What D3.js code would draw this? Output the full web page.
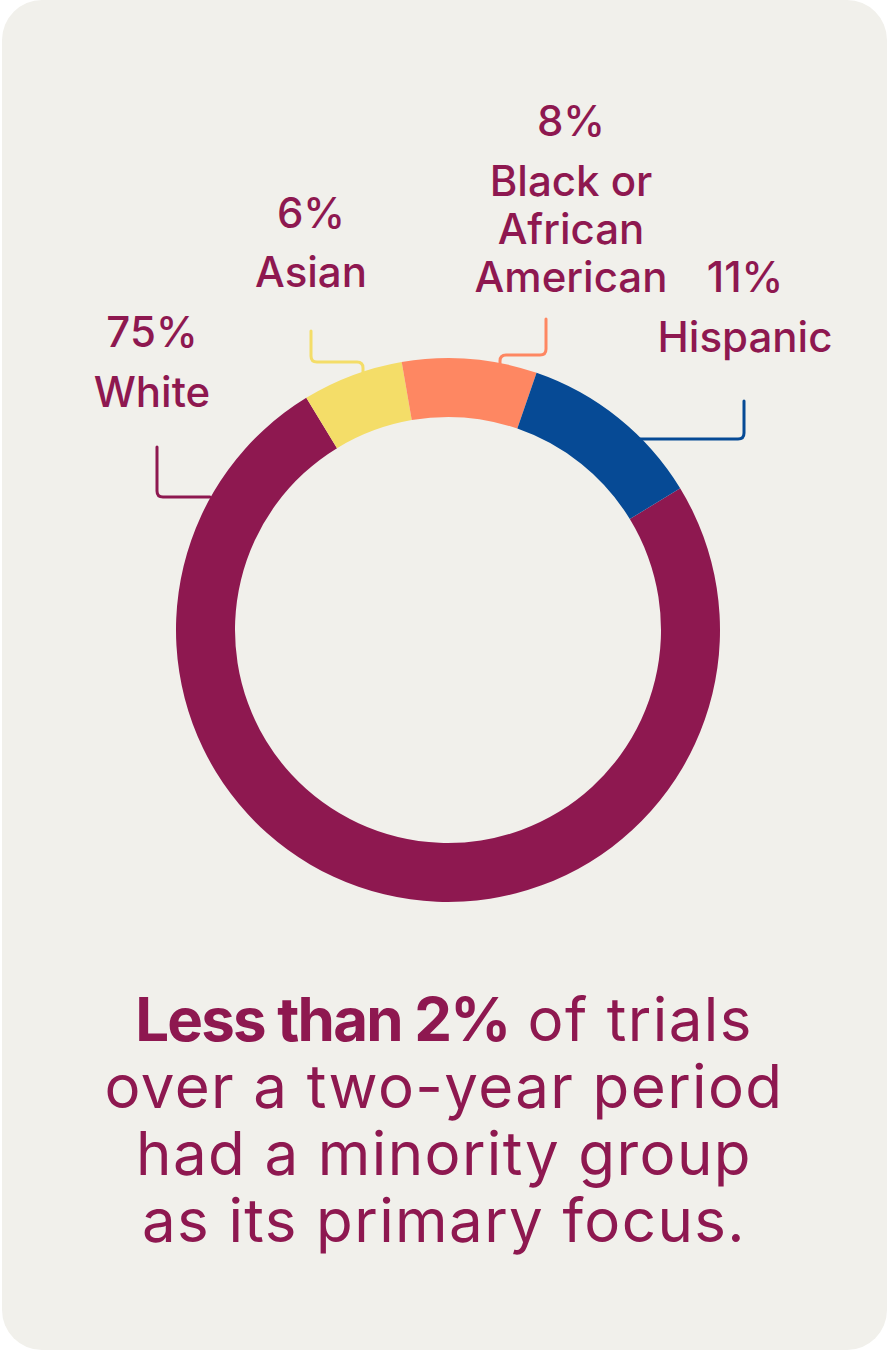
<!DOCTYPE html>
<html>
<head>
<meta charset="utf-8">
<script src="https://cdn.jsdelivr.net/npm/d3@7/dist/d3.min.js"></script>
<style>
html,body{margin:0;padding:0;background:#ffffff;}
svg{display:block;}
</style>
</head>
<body>
<svg id="chart" width="888" height="1352"></svg>
<script>
// ---- data ----
const categories = ["White", "Asian", "Black or African American", "Hispanic"];
const shares = [75, 6, 8, 11];
const percentLabels = ["75%", "6%", "8%", "11%"];
const nameLines = [["White"], ["Asian"], ["Black or", "African", "American"], ["Hispanic"]];
const colors = ["#8e1850", "#f4dd68", "#fe8762", "#064a95"];
const captionLines = [
  [{t: "Less than 2%", b: true}, {t: " of trials", b: false}],
  [{t: "over a two-year period", b: false}],
  [{t: "had a minority group", b: false}],
  [{t: "as its primary focus.", b: false}]
];

// ---- layout ----
const W = 888, H = 1352;
const cx = 448, cy = 630, rOuter = 272, rInner = 213;
const startDeg = 58.6;
const textColor = "#8e1850";
const font = "Inter, 'Noto Sans', sans-serif";

const svg = d3.select("#chart");

svg.append("rect")
  .attr("x", 2).attr("y", 0)
  .attr("width", 885).attr("height", 1350)
  .attr("rx", 40).attr("ry", 40)
  .attr("fill", "#f1f0eb");

const pie = d3.pie().sort(null).value(d => d)
  .startAngle(startDeg * Math.PI / 180)
  .endAngle(startDeg * Math.PI / 180 + 2 * Math.PI);
const arc = d3.arc().innerRadius(rInner).outerRadius(rOuter);

const g = svg.append("g").attr("transform", `translate(${cx},${cy})`);
g.selectAll("path.slice")
  .data(pie(shares))
  .join("path")
  .attr("class", "slice")
  .attr("d", arc)
  .attr("fill", (d, i) => colors[i]);

// leader lines (annotation geometry)
const leaders = [
  "M210,497 H163 Q157,497 157,491 V447",
  "M311,331 V356 Q311,362 317,362 H357 Q363,362 363,368 V374",
  "M546,319 V349 Q546,355 540,355 H506 Q500,355 500,361 V365",
  "M744,401 V433 Q744,439 738,439 H640"
];
svg.selectAll("path.leader")
  .data(leaders)
  .join("path")
  .attr("class", "leader")
  .attr("d", d => d)
  .attr("fill", "none")
  .attr("stroke", (d, i) => colors[i])
  .attr("stroke-width", 3)
  .attr("stroke-linecap", "round");

// labels
const labelPos = [
  {x: 152, pctY: 347, nameY: 407},
  {x: 311, pctY: 228, nameY: 287},
  {x: 571, pctY: 136, nameY: 196},
  {x: 745, pctY: 292, nameY: 352}
];
const nameLineGap = 48;
const lab = svg.selectAll("g.label")
  .data(categories)
  .join("g")
  .attr("class", "label");
lab.append("text")
  .attr("x", (d, i) => labelPos[i].x)
  .attr("y", (d, i) => labelPos[i].pctY)
  .attr("text-anchor", "middle")
  .attr("font-family", font)
  .attr("font-weight", 500)
  .attr("font-size", 42)
  .attr("fill", textColor)
  .text((d, i) => percentLabels[i]);
lab.each(function(d, i) {
  const sel = d3.select(this);
  nameLines[i].forEach((line, j) => {
    sel.append("text")
      .attr("x", labelPos[i].x)
      .attr("y", labelPos[i].nameY + j * nameLineGap)
      .attr("text-anchor", "middle")
      .attr("font-family", font)
      .attr("font-weight", 500)
      .attr("font-size", 42)
      .attr("fill", textColor)
      .text(line);
  });
});

// caption
const capY0 = 1041, capGap = 67;
captionLines.forEach((parts, i) => {
  const t = svg.append("text")
    .attr("x", 444)
    .attr("y", capY0 + i * capGap)
    .attr("text-anchor", "middle")
    .attr("font-family", font)
    .attr("font-size", 60)
    .attr("fill", textColor);
  parts.forEach(p => {
    t.append("tspan")
      .attr("font-weight", p.b ? 700 : 400)
      .attr("letter-spacing", p.b ? -1.8 : 1.4)
      .text(p.t);
  });
});
</script>
</body>
</html>
